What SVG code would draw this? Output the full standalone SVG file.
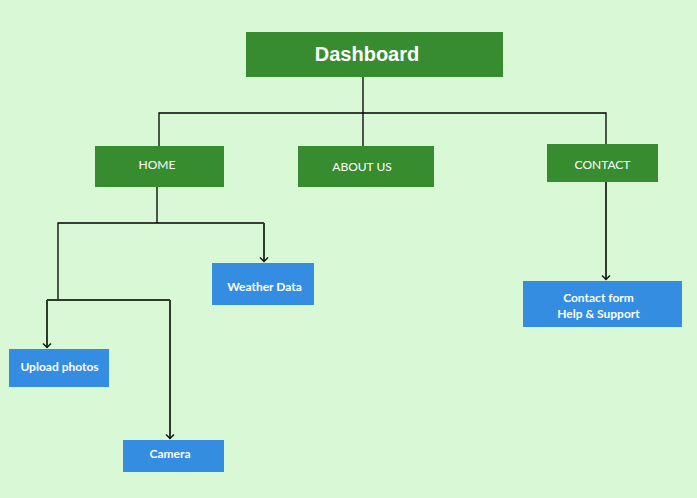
<svg xmlns="http://www.w3.org/2000/svg" width="697" height="498" viewBox="0 0 697 498">
  <defs>
    <style>
      .g { fill: #378c30; }
      .b { fill: #348de0; }
      .t { font-family: Lato, "Open Sans", sans-serif; fill: #ffffff; text-anchor: middle; }
      .cap { font-size: 12px; }
      .sm { font-size: 12px; font-weight: bold; }
      .ln { fill: none; stroke: #000000; stroke-width: 1.3; }
      .ar { fill: none; stroke: #2f3a2f; stroke-width: 2; }
    </style>
    <marker id="arr" markerWidth="10" markerHeight="10" refX="5" refY="5" orient="auto" markerUnits="userSpaceOnUse" viewBox="0 0 10 10">
      <path d="M1,1 L5,5 L1,9" fill="none" stroke="#1a1a1a" stroke-width="1.5"/>
    </marker>
  </defs>
  <rect width="697" height="498" fill="#d9f9d6"/>

  <g id="connectors">
    <path class="ln" d="M363,77 V146 M159,146 V113 H606 V144"/>
    <path class="ln" d="M157,187 V223 M58,300 V223 H264"/>
    <path class="ar" d="M264,223 V261.5" marker-end="url(#arr)"/>
    <path class="ar" d="M47,300 H170"/>
    <path class="ar" d="M47,300 V347.5" marker-end="url(#arr)"/>
    <path class="ar" d="M170,300 V438.5" marker-end="url(#arr)"/>
    <path class="ar" d="M606,182 V279.5" marker-end="url(#arr)"/>
  </g>

  <g id="dashboard">
    <rect class="g" x="246" y="32" width="257" height="45"/>
    <text x="367" y="61" style="font-family: 'Liberation Sans', Arial, sans-serif; font-weight: bold; font-size: 20px; fill: #fff; text-anchor: middle;">Dashboard</text>
  </g>
  <g id="home">
    <rect class="g" x="95" y="146" width="129" height="41"/>
    <text class="t cap" x="157" y="169">HOME</text>
  </g>
  <g id="about">
    <rect class="g" x="298" y="146" width="136" height="41"/>
    <text class="t cap" x="362" y="171">ABOUT US</text>
  </g>
  <g id="contact">
    <rect class="g" x="547" y="144" width="111" height="38"/>
    <text class="t cap" x="602.5" y="169">CONTACT</text>
  </g>
  <g id="weather">
    <rect class="b" x="212" y="263" width="102" height="42"/>
    <text class="t sm" x="264.5" y="291">Weather Data</text>
  </g>
  <g id="upload">
    <rect class="b" x="9" y="349" width="100" height="38"/>
    <text class="t sm" x="59.5" y="371">Upload photos</text>
  </g>
  <g id="camera">
    <rect class="b" x="123" y="440" width="101" height="32"/>
    <text class="t sm" x="170" y="458">Camera</text>
  </g>
  <g id="contactform">
    <rect class="b" x="523" y="281" width="159" height="46"/>
    <text class="t sm" x="598.5" y="302">Contact form</text>
    <text class="t sm" x="598.5" y="318">Help &amp; Support</text>
  </g>
</svg>
